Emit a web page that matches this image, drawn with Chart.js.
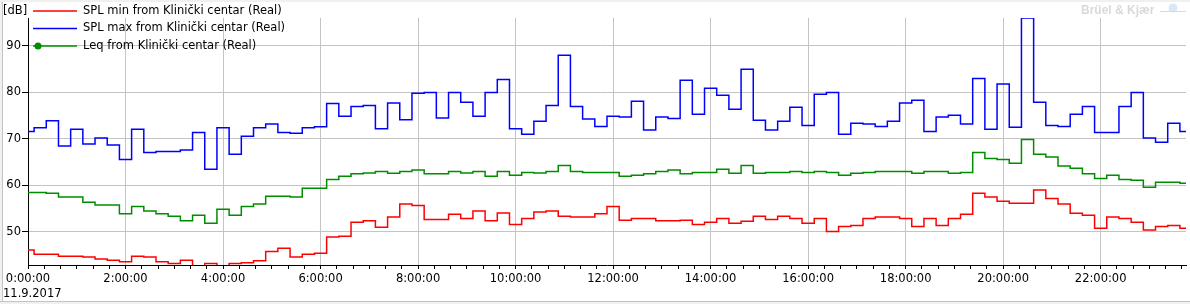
<!DOCTYPE html>
<html>
<head>
<meta charset="utf-8">
<script src="https://cdn.jsdelivr.net/npm/chart.js@4.4.0/dist/chart.umd.min.js"></script>
<style>
  html, body { margin:0; padding:0; background:#fff; }
  #wrap { position:relative; width:1190px; height:304px; }
</style>
</head>
<body>
<div id="wrap"><canvas id="grafico" width="1190" height="304"></canvas></div>
<script>
// 15 minute slots, 11.9.2017
const startMinute = 0;
const stepMinutes = 15;
const dateLabel = "11.9.2017";
const unitLabel = "[dB]";

const splMin = [
  46.1,45.2,45.2,44.8,44.8,44.6,44.2,43.9,43.6,44.8,44.6,43.6,
  43.2,43.9,42.5,43.2,42.5,43.2,43.4,43.8,45.8,46.5,44.6,45.2,
  45.4,48.9,49.1,52.1,52.4,51.0,53.2,56.0,55.7,52.7,52.7,53.8,
  52.9,54.5,52.4,54.1,51.6,52.9,54.3,54.5,53.4,53.2,53.2,53.9,
  55.5,52.5,52.9,52.9,52.4,52.4,52.5,51.6,52.1,52.9,51.9,52.3,
  53.4,52.7,53.4,52.9,51.9,52.9,50.1,51.2,51.4,52.9,53.2,53.2,
  52.9,51.2,52.9,51.4,52.9,53.8,58.3,57.5,56.6,56.2,56.2,59.0,
  57.2,56.0,54.0,53.6,50.8,53.2,52.9,52.1,50.4,51.2,51.4,50.8
];
const splMax = [
  71.6,72.4,73.9,68.5,72.1,68.9,70.2,68.7,65.6,72.1,67.1,67.3,
  67.3,67.6,71.4,63.5,72.4,66.7,70.6,72.4,73.2,71.4,71.2,72.4,
  72.6,77.6,74.9,77.0,77.2,72.2,77.7,74.1,79.8,80.0,74.5,80.0,
  77.9,74.9,80.0,82.8,72.2,71.0,73.8,77.2,88.0,77.0,74.3,72.7,
  74.9,74.7,78.1,71.9,74.7,74.4,82.6,75.3,80.9,79.4,76.4,85.0,
  74.0,71.9,73.8,76.8,72.9,79.6,80.0,71.0,73.4,73.2,72.7,73.8,
  77.7,78.3,71.6,74.7,75.1,73.2,83.0,72.1,81.8,72.5,96.0,77.9,
  72.9,72.7,75.3,77.0,71.4,71.4,77.0,80.0,70.2,69.3,73.4,71.6
];
const leq = [
  58.5,58.5,58.3,57.5,57.5,56.4,55.8,55.8,53.9,55.5,54.5,53.9,
  53.4,52.4,53.6,51.9,54.9,53.6,55.5,56.0,57.7,57.7,57.5,59.4,
  59.4,61.3,62.0,62.5,62.7,63.0,62.6,63.0,63.3,62.5,62.5,63.0,
  62.7,63.0,62.0,63.0,62.2,62.8,62.7,63.0,64.3,63.0,62.8,62.8,
  62.8,62.0,62.2,62.5,63.0,63.3,62.5,62.8,62.8,63.5,62.6,64.3,
  62.6,62.8,62.8,63.0,62.8,63.0,62.8,62.2,62.6,62.8,63.0,63.0,
  63.0,62.6,63.0,63.0,62.6,62.8,67.1,65.8,65.6,64.8,69.9,66.7,
  66.1,64.2,63.7,62.5,61.5,62.2,61.3,61.1,59.6,60.7,60.7,60.5
];

const slotMinutes = splMin.map((_, i) => startMinute + i * stepMinutes);
const pts = arr => arr.map((v, i) => ({ x: slotMinutes[i], y: v }));

function hms(m){
  const h = Math.floor(m / 60), mm = m % 60;
  return h + ":" + String(mm).padStart(2, "0") + ":00";
}

const decor = {
  id: "decor",
  beforeDraw(chart){
    const c = chart.ctx;
    c.save();
    c.fillStyle = "#fff";
    c.fillRect(0, 0, chart.width, chart.height);
    c.restore();
  },
  afterDraw(chart){
    const c = chart.ctx;
    c.save();
    // legend inside the plot, top left
    c.font = '11.5px "DejaVu Sans"';
    c.textBaseline = "middle";
    chart.data.datasets.forEach((ds, i) => {
      const y = 11 + i * 17.5;
      c.strokeStyle = ds.borderColor;
      c.lineWidth = 1.5;
      c.beginPath(); c.moveTo(33, y); c.lineTo(77, y); c.stroke();
      if (ds.legendMarker) {
        c.fillStyle = ds.borderColor;
        c.beginPath(); c.arc(38, y, 3.5, 0, Math.PI * 2); c.fill();
      }
      c.fillStyle = "#000";
      c.fillText(ds.label, 83, y);
    });
    c.fillText(unitLabel, 3, 11);
    c.textBaseline = "alphabetic";
    c.fillText(dateLabel, 3, 297);

    // logo
    c.font = 'bold 12px "Liberation Sans"';
    c.fillStyle = "#d9d9d9";
    c.fillText("Brüel & Kjær", 1081, 14);
    c.strokeStyle = "#c9dcf3";
    c.fillStyle = "#dbe7f7";
    c.beginPath(); c.arc(1173, 8, 4.5, 0, Math.PI * 2); c.fill();
    c.lineWidth = 1;
    c.beginPath(); c.moveTo(1160, 11.5); c.lineTo(1186, 11.5); c.stroke();

    // frame
    c.fillStyle = "#f0f0f0";
    c.fillRect(0, 0, chart.width, 2);
    c.fillRect(0, 0, 2, chart.height);
    c.fillRect(0, 302, chart.width, 2);
    c.fillStyle = "#c4c4c4";
    c.fillRect(0, 301, chart.width, 1);
    c.fillRect(2, 2, 1, 299);
    c.restore();
  }
};

new Chart(document.getElementById("grafico"), {
  type: "line",
  data: {
    datasets: [
      { label: "SPL min from Klinički centar (Real)", data: pts(splMin), borderColor: "#ff0000" },
      { label: "SPL max from Klinički centar (Real)", data: pts(splMax), borderColor: "#0000ff" },
      { label: "Leq from Klinički centar (Real)", data: pts(leq), borderColor: "#008c00", legendMarker: true }
    ]
  },
  options: {
    responsive: false,
    animation: false,
    devicePixelRatio: 1,
    layout: { padding: { top: 18, right: 4, left: 0, bottom: 0 } },
    elements: {
      line: { stepped: "middle", borderWidth: 1.5, fill: false, tension: 0 },
      point: { radius: 0, hoverRadius: 0 }
    },
    plugins: { legend: { display: false }, tooltip: { enabled: false } },
    scales: {
      x: {
        type: "linear",
        min: 0,
        max: 1425,
        afterFit(s){ s.height = 39; },
        border: { color: "#000", width: 1 },
        grid: {
          color: ctx => (ctx.tick && ctx.tick.value % 120 === 0) ? "#c4c4c4" : "rgba(0,0,0,0)",
          tickColor: "#000",
          tickLength: 4
        },
        ticks: {
          stepSize: 20,
          includeBounds: false,
          autoSkip: false,
          maxRotation: 0,
          padding: 3,
          color: "#000",
          font: { family: "DejaVu Sans", size: 11.5 },
          callback: v => (v % 120 === 0) ? hms(v) : ""
        }
      },
      y: {
        min: 42.9,
        max: 96,
        afterFit(s){ s.width = 28; },
        border: { color: "#000", width: 1 },
        grid: { color: "#c4c4c4", tickColor: "#000", tickLength: 6 },
        ticks: {
          stepSize: 10,
          includeBounds: false,
          padding: 1,
          color: "#000",
          font: { family: "DejaVu Sans", size: 11.5 }
        }
      }
    }
  },
  plugins: [decor]
});
</script>
</body>
</html>
